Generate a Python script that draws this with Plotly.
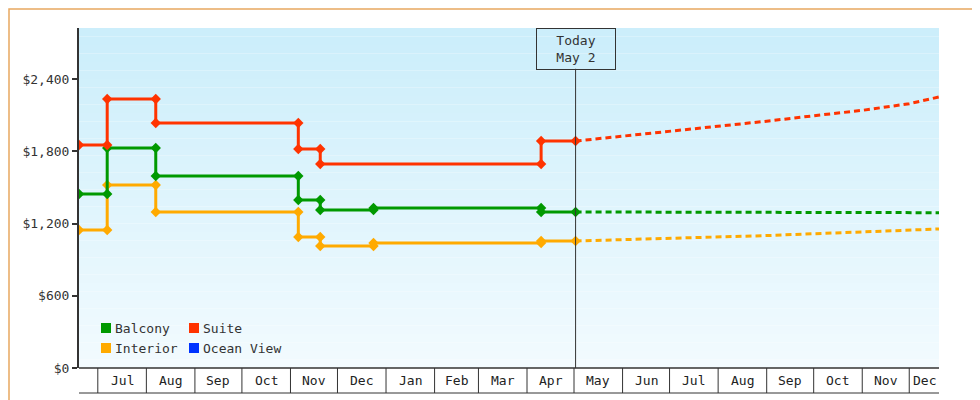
import plotly.graph_objects as go
import pandas as pd

# ---- data ----
balcony_dates = ["2024-06-19","2024-07-07","2024-07-07","2024-08-07","2024-08-07","2024-11-06","2024-11-06","2024-11-20","2024-11-20","2024-12-24","2024-12-24","2025-04-10","2025-04-10","2025-05-02"]
balcony_vals  = [1445,1445,1827,1827,1595,1595,1395,1395,1312,1312,1329,1329,1296,1296]
suite_dates = ["2024-06-19","2024-07-07","2024-07-07","2024-08-07","2024-08-07","2024-11-06","2024-11-06","2024-11-20","2024-11-20","2025-04-10","2025-04-10","2025-05-02"]
suite_vals  = [1852,1852,2234,2234,2035,2035,1819,1819,1694,1694,1885,1885]
interior_dates = balcony_dates
interior_vals  = [1146,1146,1520,1520,1296,1296,1088,1088,1013,1013,1038,1038,1055,1055]

fc_dates_s = ["2025-05-02","2025-06-01","2025-07-01","2025-08-01","2025-09-01","2025-10-01","2025-11-01","2025-12-01","2025-12-20"]
fc_suite   = [1885,1925,1965,2005,2050,2095,2140,2195,2251]
fc_dates_b = ["2025-05-02","2025-08-15","2025-08-16","2025-12-20"]
fc_balcony = [1296,1296,1290,1290]
fc_dates_i = ["2025-05-02","2025-07-01","2025-09-01","2025-11-01","2025-12-20"]
fc_interior= [1055,1075,1100,1130,1155]

month_starts = ["2024-07-01","2024-08-01","2024-09-01","2024-10-01","2024-11-01","2024-12-01","2025-01-01","2025-02-01","2025-03-01","2025-04-01","2025-05-01","2025-06-01","2025-07-01","2025-08-01","2025-09-01","2025-10-01","2025-11-01","2025-12-01"]
month_labels = ["Jul","Aug","Sep","Oct","Nov","Dec","Jan","Feb","Mar","Apr","May","Jun","Jul","Aug","Sep","Oct","Nov","Dec"]
y_ticks = [0,600,1200,1800,2400]
y_labels = ["$0","$600","$1,200","$1,800","$2,400"]
today = "2025-05-02"
x_start, x_end = "2024-06-19", "2025-12-20"

GREEN, RED, ORANGE, BLUE = "#009900", "#ff3300", "#ffaa00", "#0033ff"
FONT = "DejaVu Sans Mono"

fig = go.Figure()
for dates, vals, col in [(interior_dates, interior_vals, ORANGE), (balcony_dates, balcony_vals, GREEN), (suite_dates, suite_vals, RED)]:
    fig.add_trace(go.Scatter(x=dates, y=vals, mode="lines+markers", line=dict(color=col, width=3),
                             marker=dict(symbol="diamond", size=8, color=col), showlegend=False, hoverinfo="skip"))
for dates, vals, col in [(fc_dates_i, fc_interior, ORANGE), (fc_dates_b, fc_balcony, GREEN), (fc_dates_s, fc_suite, RED)]:
    fig.add_trace(go.Scatter(x=dates, y=vals, mode="lines", line=dict(color=col, width=3, dash="6px,4px"),
                             showlegend=False, hoverinfo="skip"))

shapes = []
N = 40
for i in range(N):
    t = i / (N - 1)
    r = int(0xf2 + (0xcc - 0xf2) * t); g = int(0xfb + (0xee - 0xfb) * t); b = int(0xff + (0xfb - 0xff) * t)
    shapes.append(dict(type="rect", xref="paper", yref="paper", x0=0, x1=1, y0=i / N, y1=(i + 1) / N,
                       fillcolor=f"rgb({r},{g},{b})", line=dict(width=0), layer="below"))
shapes.append(dict(type="rect", xref="paper", yref="paper", x0=-70/860, x1=1+48/860, y0=-39/340, y1=1+19/340,
                   line=dict(color="#e8a860", width=1.5)))
for d in month_starts:
    shapes.append(dict(type="line", xref="x", yref="paper", x0=d, x1=d, y0=0, y1=-25/340, line=dict(color="#333", width=1)))
shapes.append(dict(type="line", xref="paper", yref="paper", x0=0, x1=1, y0=-25/340, y1=-25/340, line=dict(color="#333", width=1)))
shapes.append(dict(type="line", xref="paper", yref="paper", x0=0, x1=1, y0=0, y1=0, line=dict(color="#333", width=1.5)))
shapes.append(dict(type="line", xref="x", yref="paper", x0=today, x1=today, y0=0, y1=0.88, line=dict(color="#333", width=1)))

annotations = []
ms = [pd.Timestamp(d) for d in month_starts] + [pd.Timestamp(x_end)]
for i, lab in enumerate(month_labels):
    mid = ms[i] + (ms[i+1] - ms[i]) / 2
    annotations.append(dict(x=mid, y=-12.5/340, xref="x", yref="paper", text=lab, showarrow=False,
                            font=dict(family=FONT, size=13, color="#222"), yanchor="middle"))
annotations.append(dict(x=today, y=1, xref="x", yref="paper", text="Today<br>May 2", showarrow=False,
                        yanchor="top", width=72, height=34, bordercolor="#333", borderwidth=1, borderpad=3,
                        font=dict(family=FONT, size=13, color="#333"), bgcolor="rgba(0,0,0,0)"))
leg = [("Balcony", GREEN, 22, 40), ("Suite", RED, 110, 40), ("Interior", ORANGE, 22, 20), ("Ocean View", BLUE, 110, 20)]
for name, col, px, py in leg:
    shapes.append(dict(type="rect", xref="paper", yref="paper", x0=px/860, x1=(px+10)/860, y0=(py-5)/340, y1=(py+5)/340,
                       fillcolor=col, line=dict(width=0)))
    annotations.append(dict(x=(px+12)/860, y=py/340, xref="paper", yref="paper", text=name, showarrow=False,
                            xanchor="left", yanchor="middle", font=dict(family=FONT, size=13, color="#333")))

fig.update_layout(
    width=980, height=400, margin=dict(l=71, r=49, t=20, b=40, autoexpand=False),
    paper_bgcolor="white", plot_bgcolor="rgba(0,0,0,0)",
    shapes=shapes, annotations=annotations, showlegend=False,
    xaxis=dict(range=[x_start, x_end], showticklabels=False, showgrid=False, zeroline=False, ticks="", automargin=False),
    yaxis=dict(range=[0, 2824], tickvals=y_ticks, ticktext=y_labels, showgrid=False, zeroline=False, automargin=False,
               showline=True, linecolor="#333", linewidth=2, ticks="outside", ticklen=5, tickwidth=2,
               tickcolor="#333", tickfont=dict(family=FONT, size=13, color="#333")),
)
fig.write_html("out.html")
